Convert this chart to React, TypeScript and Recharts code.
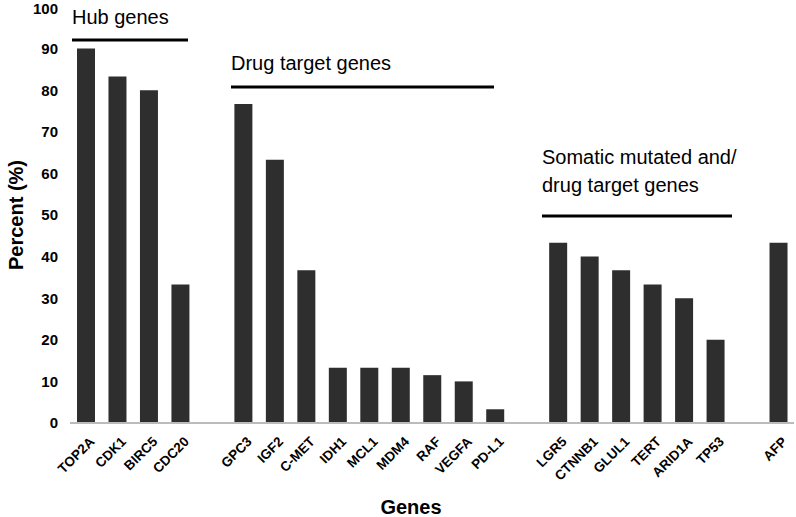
import React from 'react';
import { BarChart, Bar, XAxis, YAxis } from 'recharts';

// empty names are spacer slots between the gene groups
const genes = [
  'TOP2A', 'CDK1', 'BIRC5', 'CDC20', '',
  'GPC3', 'IGF2', 'C-MET', 'IDH1', 'MCL1', 'MDM4', 'RAF', 'VEGFA', 'PD-L1', ' ',
  'LGR5', 'CTNNB1', 'GLUL1', 'TERT', 'ARID1A', 'TP53', '  ',
  'AFP',
];
const percents: (number | null)[] = [
  90, 83.3, 80, 33.3, null,
  76.7, 63.3, 36.7, 13.3, 13.3, 13.3, 11.5, 10, 3.3, null,
  43.3, 40, 36.7, 33.3, 30, 20, null,
  43.3,
];
const yTicks = [0, 10, 20, 30, 40, 50, 60, 70, 80, 90, 100];

const data = genes.map((g, i) => ({ gene: g, percent: percents[i] }));

const font = 'Arial, "Liberation Sans", sans-serif';

function GeneTick(props: any) {
  const { x, y, payload } = props;
  const label = payload && payload.value != null ? String(payload.value) : '';
  if (!label.trim()) return <g />;
  const ax = x + 6;
  const ay = y + 8;
  return (
    <g style={{ transform: `translate(${ax}px, ${ay}px) rotate(-45deg)` }}>
      <text x={0} y={0} dy={5} textAnchor="end" fontFamily={font} fontWeight="bold" fontSize={13.5} fill="#000">
        {label}
      </text>
    </g>
  );
}

const App = () => {
  return (
    <div style={{ position: 'relative', width: 796, height: 517, background: '#fff' }}>
      <style>{'body{margin:0}'}</style>
      <BarChart
        width={796}
        height={517}
        data={data}
        margin={{ top: 7, right: 2, bottom: 34, left: 0 }}
        barSize={18}
      >
        <XAxis
          dataKey="gene"
          interval={0}
          tick={(p: any) => <GeneTick {...p} />}
          tickLine={false}
          axisLine={{ stroke: '#bbbbbb', strokeWidth: 2 }}
          height={60}
        />
        <YAxis
          domain={[0, 100]}
          ticks={yTicks}
          width={70}
          axisLine={false}
          tickLine={false}
          tickSize={0}
          tickMargin={12}
          tick={{ fontFamily: font, fontWeight: 'bold', fontSize: 15, fill: '#000' }}
        />
        <Bar dataKey="percent" fill="#2e2e2e" isAnimationActive={false} />
      </BarChart>

      <svg
        width={796}
        height={517}
        style={{ position: 'absolute', left: 0, top: 0, pointerEvents: 'none' }}
        fontFamily={font}
      >
        <text x={16} y={215} transform="rotate(-90 16 215)" textAnchor="middle" dominantBaseline="central" fontSize={20} fontWeight="bold">
          Percent (%)
        </text>
        <text x={411} y={507} textAnchor="middle" dominantBaseline="central" fontSize={20} fontWeight="bold">
          Genes
        </text>

        <text x={72} y={17} dominantBaseline="central" fontSize={20}>Hub genes</text>
        <line x1={72} y1={40} x2={188} y2={40} stroke="#000" strokeWidth={3} />

        <text x={231} y={63} dominantBaseline="central" fontSize={20}>Drug target genes</text>
        <line x1={231} y1={87} x2={494} y2={87} stroke="#000" strokeWidth={3} />

        <text x={542} y={157} dominantBaseline="central" fontSize={20}>Somatic mutated and/</text>
        <text x={542} y={185} dominantBaseline="central" fontSize={20}>drug target genes</text>
        <line x1={542} y1={216} x2={732} y2={216} stroke="#000" strokeWidth={3} />
      </svg>
    </div>
  );
};

export default App;
